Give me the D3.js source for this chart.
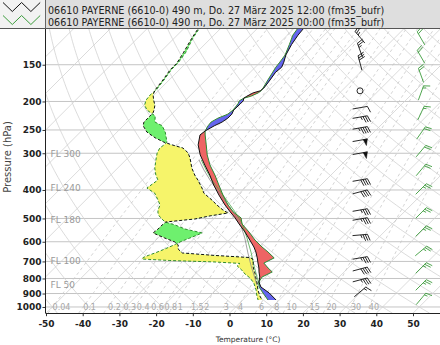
<!DOCTYPE html>
<html><head><meta charset="utf-8">
<script src="https://cdn.jsdelivr.net/npm/d3@7"></script>
<style>body{margin:0;background:#fff;} svg{display:block;font-family:"DejaVu Sans",sans-serif;}</style>
</head><body><svg id="c" width="440" height="345"></svg>
<script>
// ---------------- data ----------------
const headerLines = [
  "06610 PAYERNE (6610-0) 490 m, Do. 27 März 2025 12:00 (fm35_bufr)",
  "06610 PAYERNE (6610-0) 490 m, Do. 27 März 2025 00:00 (fm35_bufr)"
];
const tempPressure = [113,119,128,139,147,153,159,169,180,184,187,192,195,199,204,214,221,228,235,242,252,260,281,304,329,356,385,416,450,475,498,522,556,592,625,650,681,709,737,760,791,822,855,896,947];
const temp12 = [-57.4,-57.1,-56.3,-55.0,-53.6,-52.8,-53.1,-52.5,-52.0,-52.2,-53.6,-54.4,-54.7,-54.1,-54.1,-54.2,-53.6,-53.6,-54.1,-55.2,-56.3,-56.6,-54.4,-51.1,-47.1,-43.0,-39.2,-35.1,-30.7,-27.4,-24.4,-21.7,-17.9,-14.4,-11.4,-9.5,-7.5,-5.9,-4.3,-3.2,-1.6,-0.5,1.4,5.3,9.1];
const temp00 = [-59.0,-58.5,-56.9,-55.2,-54.7,-54.4,-53.9,-53.1,-52.2,-52.0,-52.2,-53.3,-54.7,-55.2,-54.7,-54.4,-54.7,-56.3,-57.1,-56.9,-56.3,-55.2,-52.2,-49.2,-45.7,-41.6,-37.8,-34.0,-29.9,-26.6,-22.8,-20.9,-16.8,-13.0,-9.2,-6.2,-2.9,-4.3,-1.8,0.4,-1.0,-0.5,0.9,3.6,6.9];
const dewPressure = [114,122,136,148,156,169,183,190,198,206,214,219,224,235,242,254,266,275,281,288,299,311,337,356,370,394,410,433,450,468,479,490,502,514,526,543,560,583,601,615,635,655,668,679,687,695,703,711,725,749,772,797,829,875,918,947];
const dew12 = [-86.0,-85.2,-83.6,-82.5,-82.5,-81.7,-81.1,-80.3,-78.7,-77.0,-75.9,-75.4,-75.4,-75.4,-74.6,-71.9,-68.0,-64.5,-61.5,-57.7,-55.0,-53.1,-49.8,-47.1,-44.9,-41.6,-39.7,-35.6,-32.9,-29.9,-27.7,-31.8,-35.1,-42.2,-42.4,-42.4,-42.7,-38.1,-34.3,-32.6,-31.5,-29.3,-19.7,-9.6,-8.4,-8.0,-7.5,-7.1,-6.5,-5.1,-3.7,-2.4,-0.7,1.4,3.6,5.3];
const dew00 = [-85.7,-84.9,-83.0,-82.2,-82.2,-81.4,-80.8,-81.1,-80.8,-79.8,-77.8,-75.9,-74.0,-72.4,-69.4,-66.9,-65.0,-63.7,-63.7,-64.0,-63.4,-62.3,-59.9,-57.7,-55.8,-56.6,-53.1,-50.3,-48.4,-47.6,-46.8,-45.7,-44.1,-42.4,-38.9,-35.1,-29.3,-31.3,-32.9,-33.7,-35.1,-36.7,-37.9,-38.7,-38.6,-30.6,-17.9,-10.7,-10.8,-8.4,-6.5,-4.0,-1.6,0.9,2.8,4.2];
const parcelPressure = [842,720,655,583,518,475,426,370,342,316];
const parcel12 = [-0.2,-7.3,-11.4,-16.3,-21.7,-26.6,-33.2,-41.6,-46.0,-50.1];
const parcel00 = [0.4,-6.5,-10.5,-15.7,-21.2,-26.1,-32.6,-41.1,-45.4,-49.5];
const windPressure12 = [121,134,148,184,210,226,246,271,300,370,406,468,502,569,681,743,809,889];
const windDir12 = [320,340,345,0,80,80,80,80,80,80,75,80,80,85,80,75,75,50];
const windSpeed12 = [25,25,30,0,10,35,45,50,50,40,40,35,35,35,35,40,35,15];
const windPressure00 = [122,141,163,187,219,256,295,342,397,479,552,645,737,842,939];
const windDir00 = [330,330,340,20,25,35,40,40,45,45,45,50,45,45,40];
const windSpeed00 = [20,20,20,15,15,20,20,20,25,25,25,25,25,25,15];
const pressureTicks = [150,200,250,300,400,500,600,700,800,900,1000];
const isobarLevels = [100,150,200,250,300,400,500,600,700,800,900,1000];
const tempTicks = [-50,-40,-30,-20,-10,0,10,20,30,40,50];
const mixingRatios = [0.04,0.1,0.2,0.3,0.4,0.6,0.8,1,1.5,2,3,4,6,8,10,15,20,30,40];
const flightLevels = [300,240,180,100,50];

// ---------------- layout ----------------
const svg = d3.select("#c");
const plotL = 45.5, plotR = 440, plotT = 0;
const yScale = d3.scaleLog().domain([1050, 100]).range([313.2, 12.96]);
const xScale = d3.scaleLinear().domain([-50, 50]).range([46, 413]);
const plotB = yScale(1050);
const pTop = yScale.invert(plotT);
const sx = (T, p) => xScale(T) + (plotB - yScale(p));
const line = d3.line();

const defs = svg.append("defs");
defs.append("clipPath").attr("id","plot").append("rect")
  .attr("x",plotL).attr("y",plotT).attr("width",plotR-plotL).attr("height",plotB-plotT);
const g = svg.append("g").attr("clip-path","url(#plot)");

const ps = d3.range(0,91).map(i => 1050*Math.pow(pTop/1050, i/90));

// isobars
g.append("g").selectAll("line").data(isobarLevels).join("line")
  .attr("x1",plotL).attr("x2",plotR).attr("y1",d=>yScale(d)).attr("y2",d=>yScale(d))
  .attr("stroke","#c4c4c4").attr("stroke-width",1);
// isotherms
g.append("g").selectAll("path").data(d3.range(-170,60,10)).join("path")
  .attr("d",T=>line([[sx(T,1050),yScale(1050)],[sx(T,pTop),yScale(pTop)]]))
  .attr("fill","none").attr("stroke","#d2d2d2").attr("stroke-width",0.8);
// dry adiabats
g.append("g").selectAll("path").data(d3.range(-60,230,10)).join("path")
  .attr("d",T0=>{const th=T0+273.15; return line(ps.map(p=>[sx(th*Math.pow(p/1000,0.2857)-273.15,p),yScale(p)]));})
  .attr("fill","none").attr("stroke","#d2d2d2").attr("stroke-width",0.8);
// mixing ratio lines
function tdFromW(w,p){const e=w*p/(622+w);const l=Math.log(e/6.112);return 243.5*l/(17.67-l);}
g.append("g").selectAll("path").data(mixingRatios).join("path")
  .attr("d",w=>line(ps.map(p=>[sx(tdFromW(w,p),p),yScale(p)])))
  .attr("fill","none").attr("stroke","#c8c8c8").attr("stroke-width",0.8).attr("stroke-dasharray","3,3");

// mixing ratio labels (start at their line, nudged so they do not overlap)
const mrFont = 8;
const mrText = g.append("g").selectAll("text").data(mixingRatios).join("text")
  .attr("y",yScale(1000)).attr("dy","0.35em")
  .attr("font-size",mrFont).attr("fill","#a8a8a8").text(d=>String(d));
let lastEnd = -1e9;
mrText.each(function(w){
  let x = sx(tdFromW(w,1000),1000);
  if (x < lastEnd + 0.6) x = lastEnd + 0.6;
  d3.select(this).attr("x",x);
  lastEnd = x + this.getComputedTextLength();
});
function flPressure(fl){const h=fl*100*0.3048;return 1013.25*Math.pow(1-2.25577e-5*h,5.25588);}
g.append("g").selectAll("text").data(flightLevels).join("text")
  .attr("x",plotL+5).attr("y",d=>yScale(flPressure(d))).attr("dy","0.35em")
  .attr("font-size",9).attr("fill","#9a9a9a").text(d=>"FL "+d);

// fills
function pts(P,T){return P.map((p,i)=>[sx(T[i],p),yScale(p)]);}
function sidePoly(c,far){return "M"+c.map(d=>d.join(",")).join("L")+"L"+far+","+c[c.length-1][1]+"L"+far+","+c[0][1]+"Z";}
const cT00 = pts(tempPressure,temp00), cT12 = pts(tempPressure,temp12);
const cD12 = pts(dewPressure,dew12), cD00 = pts(dewPressure,dew00);
defs.append("clipPath").attr("id","lT").append("path").attr("d",sidePoly(cT00,-2000));
defs.append("clipPath").attr("id","rT").append("path").attr("d",sidePoly(cT00,3000));
defs.append("clipPath").attr("id","lD").append("path").attr("d",sidePoly(cD12,-2000));
defs.append("clipPath").attr("id","rD").append("path").attr("d",sidePoly(cD12,3000));
const between = d3.area().x0(d=>d[0]).x1(d=>d[1]).y(d=>d[2]);
const tBetween = between(tempPressure.map((p,i)=>[sx(temp12[i],p),sx(temp00[i],p),yScale(p)]));
const dBetween = between(dewPressure.map((p,i)=>[sx(dew12[i],p),sx(dew00[i],p),yScale(p)]));
g.append("path").attr("d",dBetween).attr("fill","#f6f46a").attr("clip-path","url(#lD)");
g.append("path").attr("d",dBetween).attr("fill","#6ef06e").attr("clip-path","url(#rD)");
g.append("path").attr("d",tBetween).attr("fill","#ee6464").attr("clip-path","url(#lT)");
g.append("path").attr("d",tBetween).attr("fill","#6464ee").attr("clip-path","url(#rT)");

// parcel curves
g.append("path").attr("d",line(pts(parcelPressure,parcel12))).attr("fill","none").attr("stroke","#8a8a8a").attr("stroke-width",0.8);
g.append("path").attr("d",line(pts(parcelPressure,parcel00))).attr("fill","none").attr("stroke","#4caa4c").attr("stroke-width",0.8);
// profile lines
g.append("path").attr("d",line(cD00)).attr("fill","none").attr("stroke","#2e8b2e").attr("stroke-width",1).attr("stroke-dasharray","3,2");
g.append("path").attr("d",line(cD12)).attr("fill","none").attr("stroke","#111").attr("stroke-width",1).attr("stroke-dasharray","3,2");
g.append("path").attr("d",line(cT00)).attr("fill","none").attr("stroke","#2e8b2e").attr("stroke-width",1);
g.append("path").attr("d",line(cT12)).attr("fill","none").attr("stroke","#111").attr("stroke-width",1);

// wind barbs
function barb(sel,cx,cy,dir,spd,color){
  const L=15;
  if(spd<2.5){sel.append("circle").attr("cx",cx).attr("cy",cy).attr("r",3).attr("fill","none").attr("stroke",color).attr("stroke-width",0.9);return;}
  const th=dir*Math.PI/180, d=[Math.sin(th),-Math.cos(th)], n=[-d[1],d[0]];
  const p1=[cx+d[0]*L/2,cy+d[1]*L/2], p0=[cx-d[0]*L/2,cy-d[1]*L/2];
  let path="M"+p0+"L"+p1;
  let r=Math.round(spd/5)*5; const flags=Math.floor(r/50); r-=flags*50;
  const full=Math.floor(r/10); r-=full*10; const half=r>=5;
  const sp=0.15*L,h=0.42*L,w=0.14*L; let pos=0; let fills="";
  const at=s=>[p1[0]-d[0]*s,p1[1]-d[1]*s];
  for(let i=0;i<flags;i++){const a=at(pos),b=at(pos+2*w),c=at(pos+w);fills+="M"+a+"L"+[c[0]+n[0]*h,c[1]+n[1]*h]+"L"+b+"Z";pos+=2*w+sp*0.6;}
  for(let i=0;i<full;i++){const a=at(pos);path+="M"+a+"L"+[a[0]+n[0]*h+d[0]*w,a[1]+n[1]*h+d[1]*w];pos+=sp;}
  if(half){if(full===0&&flags===0)pos+=sp;const a=at(pos);path+="M"+a+"L"+[a[0]+n[0]*h/2+d[0]*w/2,a[1]+n[1]*h/2+d[1]*w/2];}
  sel.append("path").attr("d",path).attr("fill","none").attr("stroke",color).attr("stroke-width",0.9);
  if(fills)sel.append("path").attr("d",fills).attr("fill",color).attr("stroke",color).attr("stroke-width",0.5);
}
const gb = svg.append("g");
windPressure12.forEach((p,i)=>barb(gb,360,yScale(p),windDir12[i],windSpeed12[i],"#111"));
windPressure00.forEach((p,i)=>barb(gb,421,yScale(p),windDir00[i],windSpeed00[i],"#3c9c3c"));

// axes
const ya = svg.append("g").attr("transform",`translate(${plotL},0)`)
  .call(d3.axisLeft(yScale).tickValues(pressureTicks).tickSize(3).tickPadding(1).tickFormat(d=>String(d)));
ya.select(".domain").remove();
ya.selectAll("text").attr("font-family","DejaVu Sans").attr("font-weight","bold").attr("font-size",9).attr("fill","#222");
ya.selectAll("line").attr("stroke","#333");
const xa = svg.append("g").attr("transform",`translate(0,${plotB})`)
  .call(d3.axisBottom(xScale).tickValues(tempTicks).tickSize(3).tickPadding(4).tickFormat(d=>String(d)));
xa.select(".domain").remove();
xa.selectAll("text").attr("font-family","DejaVu Sans").attr("font-weight","bold").attr("font-size",9).attr("fill","#222");
xa.selectAll("line").attr("stroke","#333");
svg.append("line").attr("x1",plotL).attr("x2",plotL).attr("y1",0).attr("y2",plotB).attr("stroke","#222").attr("stroke-width",1);
svg.append("line").attr("x1",plotL).attr("x2",plotR).attr("y1",plotB+0.3).attr("y2",plotB+0.3).attr("stroke","#222").attr("stroke-width",1);
svg.append("text").attr("x",248).attr("y",342).attr("text-anchor","middle").attr("font-size",7.5).attr("fill","#333").text("Temperature (°C)");
svg.append("text").attr("transform","translate(11,157) rotate(-90)").attr("text-anchor","middle").attr("font-size",10).attr("fill","#444").text("Pressure (hPa)");

// header legend
const hd = svg.append("g");
hd.append("rect").attr("x",0).attr("y",0).attr("width",440).attr("height",28.5).attr("fill","#f2f2f2");
hd.append("rect").attr("x",plotL).attr("y",0).attr("width",440-plotL).attr("height",28.5).attr("fill","#dedede");
hd.append("line").attr("x1",0).attr("x2",440).attr("y1",28.5).attr("y2",28.5).attr("stroke","#555").attr("stroke-width",1);
hd.append("line").attr("x1",plotL).attr("x2",plotL).attr("y1",0).attr("y2",28.5).attr("stroke","#666").attr("stroke-width",1);
const zig = [[0,0],[1,1],[2,0],[3,1],[4,0]];
const legColors = ["#111","#3c9c3c"];
headerLines.forEach((t,i)=>{
  const y0 = 2.5+i*13;
  hd.append("path").attr("d",line(zig.map(d=>[3+d[0]*9.3,y0+d[1]*9]))).attr("fill","none").attr("stroke",legColors[i]).attr("stroke-width",1);
  hd.append("text").attr("x",48).attr("y",13.5+i*12.5).attr("font-size",9.6).attr("fill","#222").text(t);
});
</script></body></html>
